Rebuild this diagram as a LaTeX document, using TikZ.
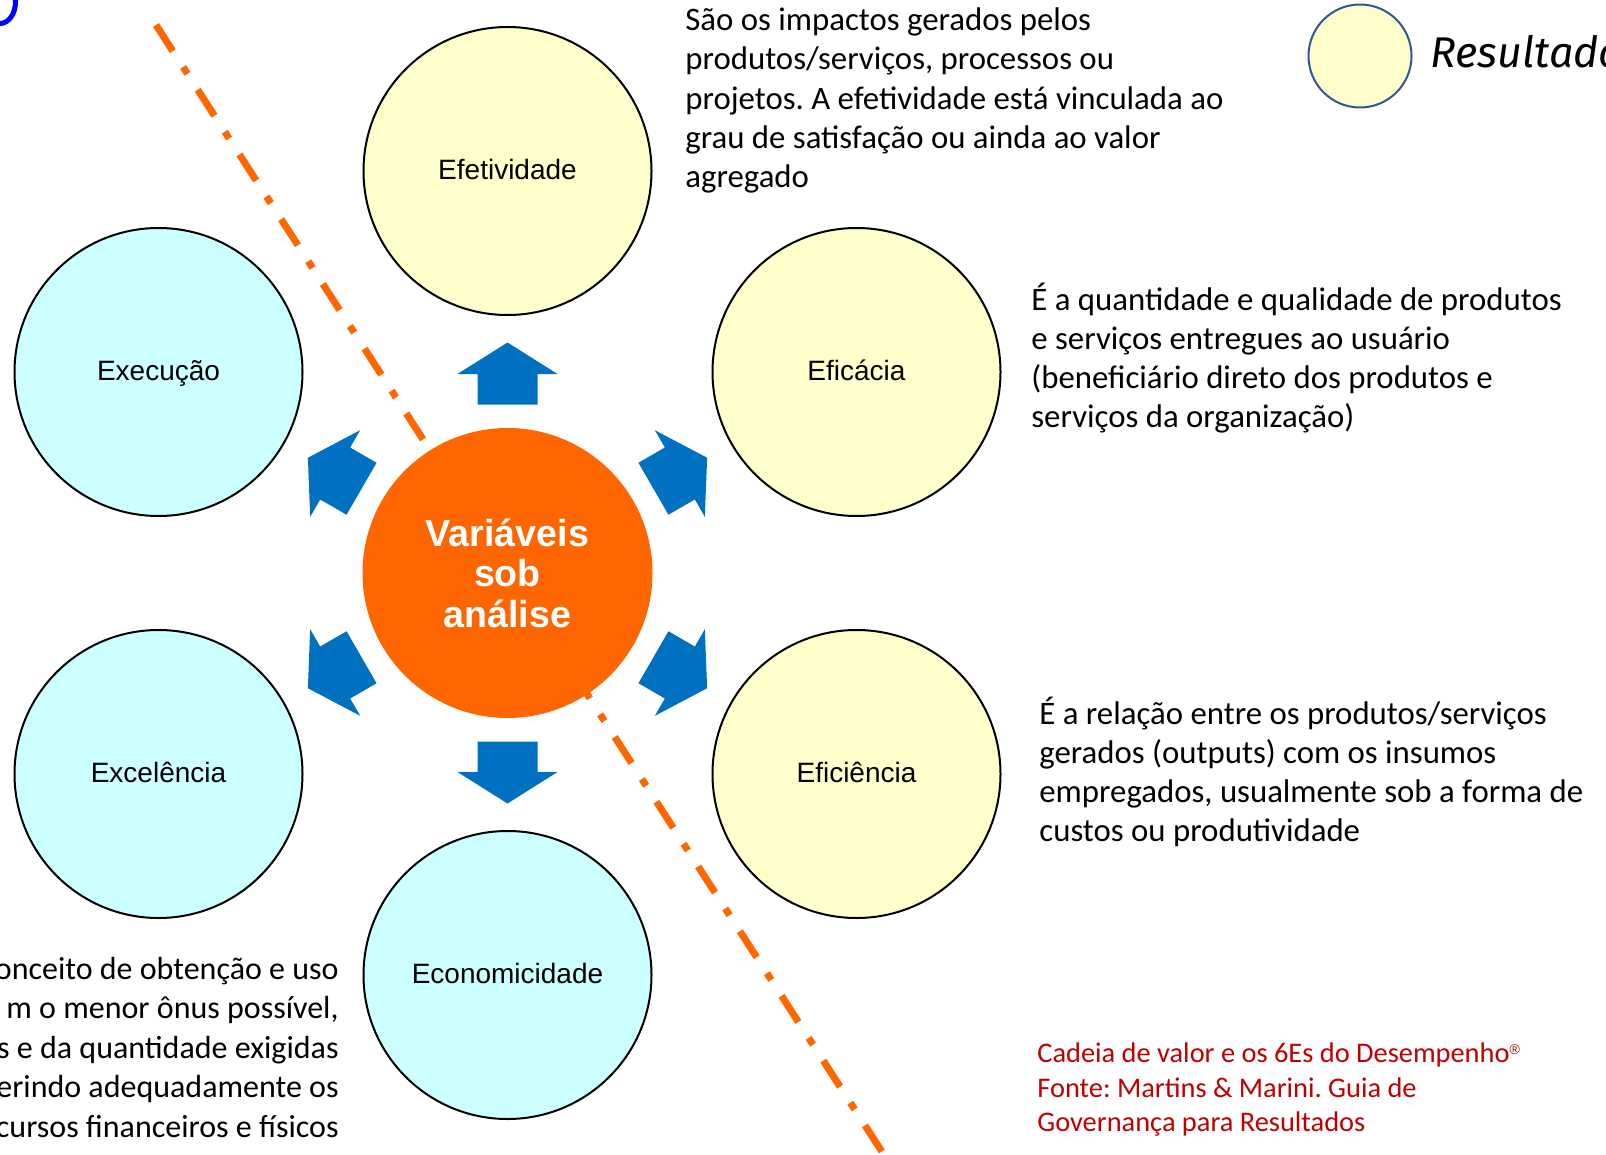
\documentclass[tikz,border=0pt]{standalone}
\usepackage{fontspec}
\setmainfont{Carlito}
\newfontfamily\arialfont{Liberation Sans}
\newfontfamily\handfont{Fira Sans}
\definecolor{resultfill}{HTML}{FFFFCC}
\definecolor{esforcofill}{HTML}{CCFFFF}
\definecolor{laranja}{HTML}{FF6600}
\definecolor{azulseta}{HTML}{0070C0}
\definecolor{bordalegenda}{HTML}{2F5597}
\definecolor{vermelho}{HTML}{C00000}
\frenchspacing
\begin{document}
\begin{tikzpicture}[x=0.5pt, y=-0.5pt, every node/.style={inner sep=0pt},
  bolha/.style={circle, draw=black, line width=1pt, minimum size=144pt,
    font=\arialfont\fontsize{14}{16}\selectfont, text height=0.85em, text depth=0pt},
  resultado/.style={bolha, fill=resultfill},
  esforco/.style={bolha, fill=esforcofill},
  nota/.style={font=\fontsize{16.4}{19.6}\selectfont, align=left, anchor=base west},
  seta/.style={fill=azulseta}]
\useasboundingbox (0,0) rectangle (1606,1155);

\draw [blue, line width=2.5pt] (0,2) ellipse [x radius=15.5, y radius=21.5];

\coordinate (center) at (507.5,573);
\coordinate (linhatopo) at (156,25);
\coordinate (linhabase) at (886,1158);
\draw [laranja, line width=3.5pt, dash pattern=on 15.5pt off 9.5pt on 4pt off 9.5pt] (linhatopo) -- (linhabase);

\node [circle, fill=laranja, minimum size=145pt, text=white, align=center,
  font=\arialfont\bfseries\fontsize{18.8}{20.3}\selectfont] (centro) at (center) {Variáveis\\sob\\análise};

\path (center) ++(0,-402) node[resultado] (efetividade) {Efetividade};
\path (center) ++(349,-201) node[resultado] (eficacia) {Eficácia};
\path (center) ++(349,201) node[resultado] (eficiencia) {Eficiência};
\path (center) ++(0,402) node[esforco] (economicidade) {Economicidade};
\path (center) ++(-349,201) node[esforco] (excelencia) {Excelência};
\path (center) ++(-349,-201) node[esforco] (execucao) {Execução};

\foreach \a in {90,30,-30,-90,-150,150}
  \fill [seta, shift={(center)}, rotate=\a] (168.5,-30) -- (199,-30) -- (199,-50) -- (230.5,0) -- (199,50) -- (199,30) -- (168.5,30) -- cycle;

% base = last line of each text
\node [nota] (txtefetividade) at (685,187.5) {São os impactos gerados pelos\\produtos/serviços, processos ou\\projetos. A efetividade está vinculada ao\\grau de satisfação ou ainda ao valor\\agregado};
\node [nota] (txteficacia) at (1031,427.7) {É a quantidade e qualidade de produtos\\e serviços entregues ao usuário\\(beneficiário direto dos produtos e\\serviços da organização)};
\node [nota] (txteficiencia) at (1039,841.8) {É a relação entre os produtos/serviços\\gerados (outputs) com os insumos\\empregados, usualmente sob a forma de\\custos ou produtividade};
\node [nota, align=right, anchor=base east, font=\fontsize{16}{19.7}\selectfont] (txteconomicidade) at (339,1137) {onceito de obtenção e uso\\m o menor ônus possível,\\s e da quantidade exigidas\\erindo adequadamente os\\cursos financeiros e físicos};
\node [nota, text=vermelho, font=\fontsize{14.2}{17.1}\selectfont] (txtfonte) at (1037,1131.3) {Cadeia de valor e os 6Es do Desempenho\raisebox{4pt}{\arialfont\fontsize{7}{7}\selectfont ®}\\Fonte: Martins \& Marini. Guia de\\Governança para Resultados};

\node [circle, draw=bordalegenda, line width=1pt, fill=resultfill, minimum size=51.5pt] (legresultado) at (1360,56) {};
\node [anchor=base west, font=\handfont\itshape\fontsize{21.5}{25}\selectfont] (legtexto) at (1430,68) {Resultados};
\end{tikzpicture}
\end{document}
